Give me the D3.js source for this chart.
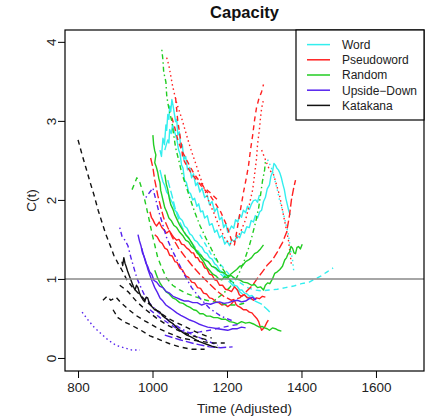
<!DOCTYPE html>
<html><head><meta charset="utf-8">
<script src="https://cdn.jsdelivr.net/npm/d3@7"></script>
<style>body{margin:0;background:#fff}svg{display:block;font-family:"Liberation Sans",Arial,sans-serif}</style>
</head><body><svg id="c" width="425" height="418"></svg>
<script>
// ---- data: each curve is a list of [time, C(t)] ----
const categories = ["Word","Pseudoword","Random","Upside\u2212Down","Katakana"];
const xTicks = [800,1000,1200,1400,1600];
const yTicks = [0,1,2,3,4];
const refLine = 1;

const word1 = [[1020,2.63],[1024,2.55],[1028,2.78],[1032,2.70],[1036,2.95],[1038,2.88],[1041,3.08],[1044,3.02],[1046,3.19],[1049,3.12],[1052,3.27],[1055,3.20],[1057,3.14],[1060,3.05],[1062,2.99],[1065,3.02],[1068,2.82],[1072,2.86],[1076,2.66],[1080,2.70],[1084,2.51],[1089,2.55],[1094,2.38],[1100,2.41],[1105,2.28],[1110,2.33],[1116,2.18],[1121,2.22],[1127,2.10],[1133,2.15],[1140,2.03],[1147,2.06],[1153,1.94],[1160,1.98],[1167,1.85],[1173,1.90],[1180,1.75],[1186,1.78],[1191,1.65],[1197,1.70],[1202,1.59],[1207,1.62],[1212,1.67],[1218,1.64],[1223,1.75],[1229,1.72],[1234,1.81],[1239,1.78],[1244,1.87],[1250,1.84],[1255,1.92],[1260,1.88],[1266,1.95],[1271,1.99],[1277,2.00],[1282,1.97],[1287,2.06]];
const word2 = [[1033,2.63],[1037,2.70],[1041,2.76],[1044,2.72],[1046,2.89],[1050,2.84],[1054,2.95],[1058,2.88],[1062,2.82],[1066,2.75],[1070,2.63],[1074,2.58],[1078,2.44],[1082,2.40],[1086,2.25],[1091,2.22],[1097,2.10],[1102,2.08],[1108,2.00],[1113,2.02],[1119,1.92],[1124,1.95],[1129,1.85],[1135,1.86],[1140,1.77],[1147,1.80],[1153,1.68],[1160,1.70],[1167,1.59],[1173,1.62],[1180,1.52],[1187,1.55],[1194,1.44],[1200,1.48],[1207,1.42],[1213,1.50],[1220,1.47],[1227,1.55],[1234,1.52],[1240,1.60],[1247,1.58],[1253,1.66],[1260,1.65],[1265,1.74],[1271,1.72],[1276,1.80],[1282,1.77],[1288,1.85],[1293,1.87],[1298,1.98],[1303,2.03],[1308,2.14],[1314,2.19],[1318,2.30],[1322,2.35],[1326,2.46],[1330,2.44],[1334,2.40],[1338,2.38],[1342,2.34],[1346,2.28],[1350,2.20],[1354,2.13],[1358,2.02],[1362,1.94],[1366,1.86],[1370,1.81]];
const word3 = [[1020,2.38],[1024,2.30],[1028,2.23],[1033,2.18],[1038,2.10],[1044,2.06],[1049,2.00],[1055,1.95],[1060,1.87],[1066,1.84],[1073,1.77],[1080,1.74],[1086,1.67],[1093,1.64],[1100,1.57],[1106,1.55],[1113,1.49],[1120,1.47],[1127,1.42],[1133,1.40],[1140,1.34],[1147,1.32],[1153,1.27],[1160,1.25],[1167,1.19],[1173,1.17],[1180,1.11],[1187,1.09],[1194,1.04],[1200,1.04],[1207,0.99],[1214,0.97],[1220,0.92],[1227,0.91],[1234,0.86],[1240,0.86],[1247,0.82],[1254,0.81],[1260,0.78],[1267,0.79],[1274,0.76]];
const word4 = [[1127,1.56],[1143,1.43],[1159,1.30],[1175,1.22],[1191,1.14],[1207,1.05],[1223,0.99],[1239,0.94],[1255,0.89],[1274,0.86],[1293,0.85],[1314,0.86],[1335,0.87],[1357,0.89],[1379,0.91],[1400,0.94],[1421,0.96],[1437,1.00],[1453,1.04],[1469,1.09],[1485,1.14]];
const word5 = [[1309,2.51],[1319,2.41],[1327,2.28],[1335,2.13],[1341,2.00],[1349,1.87],[1357,1.72],[1365,1.56],[1370,1.39],[1376,1.24],[1379,1.11]];
const word6 = [[1041,2.25],[1052,2.06],[1062,1.87],[1073,1.72],[1086,1.59],[1100,1.49],[1116,1.39],[1132,1.29],[1148,1.22],[1167,1.14],[1186,1.05],[1207,0.96],[1228,0.86],[1250,0.78],[1271,0.73],[1293,0.68],[1309,0.61],[1319,0.56]];

const pseudo1 = [[1038,3.80],[1044,3.70],[1049,3.57],[1054,3.44],[1060,3.32],[1065,3.22],[1073,3.11],[1081,2.99],[1089,2.86],[1097,2.73],[1105,2.61],[1116,2.46],[1127,2.30],[1140,2.13],[1153,1.96],[1167,1.81],[1180,1.65],[1194,1.52],[1207,1.44],[1223,1.49],[1236,1.59],[1250,1.75],[1260,1.94],[1269,2.13],[1274,2.32],[1279,2.51],[1282,2.70],[1287,2.89],[1290,3.04],[1293,3.16],[1298,3.27]];
const pseudo2 = [[1293,2.63],[1303,2.51],[1314,2.38],[1325,2.32],[1333,2.19],[1341,2.06],[1349,1.87],[1357,1.68],[1365,1.49],[1370,1.30],[1373,1.18]];
const pseudo3 = [[1062,3.29],[1065,3.14],[1068,2.99],[1073,2.84],[1078,2.68],[1081,2.53],[1092,2.43],[1105,2.33],[1119,2.25],[1135,2.15],[1151,2.08],[1167,1.97],[1183,1.85],[1199,1.68],[1212,1.49],[1220,1.43],[1228,1.65],[1236,1.87],[1244,2.09],[1252,2.28],[1258,2.44],[1263,2.63],[1269,2.82],[1274,3.01],[1279,3.16],[1285,3.27],[1293,3.37],[1298,3.46]];
const pseudo4 = [[995,2.53],[1001,2.41],[1006,2.25],[1014,2.06],[1022,1.91],[1030,1.77],[1041,1.65],[1054,1.52],[1070,1.39],[1089,1.27],[1108,1.16],[1127,1.06],[1148,0.96],[1170,0.86],[1191,0.78],[1212,0.73],[1234,0.76],[1252,0.84],[1269,0.92],[1282,1.01],[1295,1.09],[1309,1.18],[1322,1.24],[1335,1.34],[1349,1.46],[1360,1.59],[1368,1.81],[1373,2.00],[1379,2.15],[1384,2.25]];
const pseudo5 = [[993,1.85],[997,1.78],[1001,1.75],[1006,1.70],[1011,1.67],[1018,1.72],[1025,1.65],[1031,1.62],[1038,1.58],[1045,1.61],[1052,1.56],[1058,1.52],[1065,1.49],[1071,1.50],[1078,1.44],[1085,1.43],[1092,1.39],[1098,1.37],[1105,1.33],[1110,1.33],[1116,1.27],[1121,1.27],[1127,1.22],[1133,1.21],[1140,1.14],[1146,1.13],[1153,1.06],[1160,1.05],[1167,0.99],[1173,0.98],[1180,0.92],[1188,0.92],[1196,0.87],[1204,0.86],[1212,0.84],[1220,0.90],[1228,0.86],[1233,0.80],[1239,0.78],[1247,0.80],[1255,0.76],[1263,0.76],[1271,0.73],[1279,0.76],[1287,0.75],[1295,0.78],[1303,0.77]];
const pseudo6 = [[1006,1.56],[1013,1.53],[1020,1.47],[1026,1.45],[1033,1.39],[1040,1.37],[1046,1.30],[1053,1.29],[1060,1.22],[1066,1.21],[1073,1.14],[1081,1.11],[1089,1.04],[1097,1.02],[1105,0.96],[1113,0.95],[1121,0.89],[1129,0.88],[1137,0.82],[1145,0.81],[1153,0.76],[1161,0.75],[1170,0.71],[1178,0.70],[1186,0.67],[1194,0.68],[1202,0.65],[1211,0.68],[1220,0.73],[1224,0.68],[1228,0.66],[1236,0.64],[1244,0.61],[1252,0.61],[1260,0.58],[1267,0.57],[1274,0.53],[1280,0.50],[1285,0.46],[1289,0.40],[1293,0.35],[1297,0.37],[1301,0.39],[1306,0.44],[1311,0.48]];
const pseudo7 = [[1052,3.04],[1060,2.91],[1068,2.76],[1078,2.63],[1089,2.53],[1100,2.43],[1113,2.32],[1127,2.23],[1140,2.15],[1153,2.10],[1164,2.05],[1175,2.00]];

const random1 = [[1025,3.90],[1028,3.77],[1030,3.62],[1036,3.49],[1038,3.33],[1041,3.23],[1046,3.11],[1052,2.99],[1057,2.82],[1062,2.66],[1070,2.51],[1078,2.35],[1089,2.19],[1100,2.03],[1113,1.85],[1127,1.68],[1143,1.52],[1159,1.37],[1175,1.22],[1194,1.09],[1212,0.96]];
const random2 = [[1001,2.82],[1003,2.70],[1006,2.62],[1009,2.57],[1006,2.47],[1010,2.42],[1014,2.35],[1017,2.27],[1020,2.22],[1022,2.12],[1025,2.06],[1029,1.98],[1033,1.90],[1038,1.85],[1044,1.77],[1050,1.74],[1057,1.68],[1065,1.65],[1073,1.59],[1081,1.55],[1089,1.49],[1097,1.47],[1105,1.41],[1113,1.38],[1121,1.32],[1130,1.30],[1140,1.24],[1150,1.22],[1159,1.16],[1170,1.14],[1180,1.09],[1191,1.08],[1202,1.04],[1212,1.04],[1223,1.00],[1233,0.99],[1244,0.96],[1255,0.95],[1266,0.92],[1274,0.93],[1282,0.89],[1290,0.90],[1298,0.86],[1303,0.92],[1309,0.95],[1315,0.94],[1322,1.00],[1328,1.07],[1335,1.09],[1342,1.12],[1349,1.16],[1355,1.24],[1360,1.27],[1364,1.32],[1368,1.34],[1372,1.41],[1376,1.39],[1380,1.33],[1384,1.32],[1388,1.40],[1392,1.41],[1397,1.38],[1402,1.44]];
const random3 = [[945,2.13],[953,2.22],[958,2.28],[966,2.22],[974,2.10],[982,1.94],[990,1.77],[998,1.59],[1006,1.43],[1014,1.27],[1025,1.14],[1038,1.01],[1054,0.92],[1073,0.86],[1094,0.81],[1118,0.77],[1145,0.73],[1175,0.70],[1202,0.67],[1228,0.67],[1252,0.70]];
const random4 = [[1006,1.11],[1013,1.02],[1020,0.95],[1028,0.89],[1036,0.84],[1045,0.81],[1054,0.76],[1063,0.74],[1073,0.70],[1082,0.69],[1092,0.66],[1101,0.64],[1110,0.61],[1118,0.60],[1127,0.56],[1136,0.56],[1145,0.53],[1155,0.53],[1164,0.51],[1175,0.51],[1186,0.49],[1196,0.49],[1207,0.46],[1218,0.45],[1228,0.43],[1239,0.46],[1250,0.44],[1260,0.45],[1271,0.43],[1279,0.41],[1287,0.39],[1294,0.40],[1301,0.38],[1308,0.37],[1314,0.35],[1322,0.38],[1330,0.37],[1338,0.35],[1346,0.34]];
const random5 = [[1167,0.73],[1186,0.80],[1207,0.89],[1223,0.99],[1234,1.09],[1247,1.24],[1258,1.39],[1266,1.52],[1277,1.72],[1285,1.90],[1290,2.06],[1295,2.23],[1301,2.38],[1303,2.48]];
const random6 = [[1033,2.32],[1037,2.20],[1041,2.13],[1045,2.02],[1049,1.94],[1055,1.88],[1060,1.81],[1066,1.75],[1073,1.68],[1081,1.62],[1089,1.56],[1097,1.52],[1105,1.46],[1113,1.39],[1121,1.34],[1129,1.27],[1137,1.22],[1145,1.15],[1153,1.11],[1162,1.06],[1170,1.04],[1178,1.00],[1186,0.99],[1194,1.03],[1202,1.01],[1210,1.06],[1218,1.09],[1226,1.12],[1234,1.16],[1242,1.17],[1250,1.22],[1258,1.24],[1266,1.27],[1274,1.32],[1282,1.34],[1290,1.38],[1298,1.43]];

const upside1 = [[811,0.58],[827,0.48],[843,0.39],[859,0.32],[880,0.23],[902,0.16],[923,0.13],[945,0.10],[966,0.10]];
const upside2 = [[912,1.65],[918,1.54],[926,1.49],[934,1.42],[942,1.27],[950,1.14],[958,1.01],[969,0.89],[982,0.76],[998,0.66],[1020,0.56],[1046,0.46],[1073,0.38],[1105,0.30],[1140,0.23],[1175,0.16]];
const upside3 = [[961,1.56],[965,1.48],[969,1.42],[973,1.33],[977,1.29],[982,1.20],[987,1.16],[992,1.09],[998,1.06],[1004,0.98],[1011,0.96],[1019,0.91],[1028,0.89],[1037,0.84],[1046,0.82],[1055,0.78],[1065,0.76],[1075,0.74],[1086,0.72],[1097,0.72],[1108,0.70],[1120,0.70],[1132,0.67],[1144,0.69],[1156,0.68],[1168,0.70],[1180,0.71],[1192,0.69],[1204,0.70],[1216,0.72],[1228,0.73],[1239,0.71],[1250,0.72],[1260,0.75],[1269,0.77],[1274,0.74],[1279,0.75]];
const upside4 = [[971,1.39],[976,1.30],[982,1.22],[987,1.13],[993,1.05],[999,0.97],[1006,0.89],[1013,0.83],[1020,0.76],[1028,0.72],[1036,0.67],[1045,0.64],[1054,0.61],[1065,0.57],[1076,0.54],[1088,0.51],[1100,0.48],[1112,0.46],[1124,0.43],[1136,0.41],[1148,0.39],[1162,0.38],[1175,0.37],[1188,0.36],[1202,0.35],[1215,0.37],[1228,0.37],[1239,0.39],[1250,0.38]];
const upside5 = [[982,2.03],[993,2.10],[1001,2.15],[1009,2.00],[1017,1.85],[1028,1.68],[1038,1.52],[1052,1.37],[1068,1.22],[1086,1.05],[1105,0.89],[1127,0.76],[1153,0.63],[1183,0.53],[1220,0.46]];
const upside6 = [[993,0.61],[1020,0.51],[1046,0.43],[1073,0.35],[1100,0.32],[1127,0.33],[1153,0.35],[1180,0.38],[1212,0.41],[1239,0.43]];
const upside7 = [[1033,0.29],[1073,0.23],[1113,0.18],[1153,0.14],[1183,0.13],[1215,0.14]];

const kata1 = [[800,2.76],[811,2.57],[821,2.41],[832,2.23],[843,2.06],[854,1.87],[864,1.72],[875,1.56],[886,1.43],[896,1.30],[907,1.20],[918,1.11],[931,0.99],[947,0.89],[966,0.80],[987,0.70],[1014,0.59],[1046,0.49],[1081,0.41],[1121,0.32],[1159,0.25]];
const kata2 = [[918,1.22],[920,1.17],[923,1.27],[926,1.20],[929,1.16],[933,1.10],[937,1.05],[941,1.00],[945,0.95],[949,0.90],[953,0.86],[957,0.92],[961,0.89],[965,0.82],[969,0.78],[974,0.74],[979,0.71],[983,0.77],[987,0.76],[991,0.70],[995,0.67],[1000,0.64],[1006,0.61],[1013,0.60],[1020,0.58],[1026,0.54],[1033,0.51],[1040,0.49],[1046,0.46],[1053,0.44],[1060,0.41],[1066,0.38],[1073,0.35],[1082,0.32],[1092,0.29],[1102,0.27],[1113,0.24],[1124,0.21],[1135,0.19],[1147,0.17],[1159,0.15],[1167,0.14],[1175,0.13]];
const kata3 = [[867,0.73],[878,0.78],[888,0.73],[902,0.77],[915,0.70],[934,0.62],[955,0.54],[979,0.47],[1009,0.39],[1041,0.32],[1078,0.25],[1116,0.22],[1159,0.19],[1194,0.19]];
const kata4 = [[894,0.61],[907,0.51],[923,0.46],[945,0.41],[969,0.35],[993,0.28],[1020,0.23],[1046,0.18],[1073,0.14],[1105,0.11],[1140,0.11]];
const kata5 = [[912,0.92],[934,0.84],[958,0.71],[982,0.61],[1009,0.51],[1038,0.42],[1073,0.34],[1108,0.28],[1145,0.23]];

// curve list: [category index, R line type, points]
const curves = [
  [0,1,word1],[0,1,word2],[0,1,word3],[0,2,word4],[0,3,word5],[0,5,word6],
  [1,3,pseudo1],[1,3,pseudo2],[1,2,pseudo3],[1,5,pseudo4],[1,1,pseudo5],[1,1,pseudo6],[1,2,pseudo7],
  [2,4,random1],[2,1,random2],[2,2,random3],[2,1,random4],[2,4,random5],[2,1,random6],
  [3,3,upside1],[3,4,upside2],[3,1,upside3],[3,1,upside4],[3,4,upside5],[3,2,upside6],[3,5,upside7],
  [4,2,kata1],[4,1,kata2],[4,2,kata3],[4,2,kata4],[4,2,kata5]
];

// ---- styles ----
const colors = ["#33EEEE","#FF2020","#22CC22","#5522EE","#111111"];
const dashes = {1:null,2:"5,4",3:"1.5,3",4:"1.5,3,5,3",5:"8,3",6:"3,2,7,2"};

const svg = d3.select("#c");
const L=65,R=424,T=30,B=371;
const x = d3.scaleLinear().domain([765,1729]).range([L,R]);
const y = d3.scaleLinear().domain([-0.165,4.15]).range([B,T]);

svg.append("defs").append("clipPath").attr("id","clip")
  .append("rect").attr("x",L).attr("y",T).attr("width",R-L).attr("height",B-T);

const line = d3.line().x(d=>x(d[0])).y(d=>y(d[1]));
const g = svg.append("g").attr("clip-path","url(#clip)");
curves.forEach(c=>{
  g.append("path").attr("d",line(c[2])).attr("fill","none")
   .attr("stroke",colors[c[0]]).attr("stroke-width",1.4)
   .attr("stroke-linejoin","round")
   .attr("stroke-dasharray",dashes[c[1]]);
});
g.append("line").attr("x1",L).attr("x2",R).attr("y1",y(refLine)).attr("y2",y(refLine))
 .attr("stroke","#888").attr("stroke-width",1.5);

// box
svg.append("rect").attr("x",L).attr("y",T).attr("width",R-L).attr("height",B-T)
  .attr("fill","none").attr("stroke","#000").attr("stroke-width",1.2);

// axes
const xa = svg.append("g").attr("transform",`translate(0,${B})`)
  .call(d3.axisBottom(x).tickValues(xTicks).tickSize(7).tickPadding(4).tickFormat(d3.format("d")));
xa.select(".domain").remove();
xa.selectAll("text").attr("font-size",13.5).attr("fill","#222").attr("font-family","Liberation Sans, Arial, sans-serif");
xa.selectAll("line").attr("stroke","#000");

const ya = svg.append("g").attr("transform",`translate(${L},0)`)
  .call(d3.axisLeft(y).tickValues(yTicks).tickSize(7).tickFormat(d3.format("d")));
ya.select(".domain").remove();
ya.selectAll("line").attr("stroke","#000");
ya.selectAll("text").attr("x",0).attr("dy",null)
  .attr("transform","translate(-9,0) rotate(-90)").attr("text-anchor","middle")
  .attr("font-size",13.5).attr("fill","#222").attr("font-family","Liberation Sans, Arial, sans-serif");

// titles
svg.append("text").attr("x",(L+R)/2).attr("y",17.5).attr("text-anchor","middle")
  .attr("font-size",16.5).attr("font-weight","bold").attr("fill","#111").text("Capacity");
svg.append("text").attr("x",(L+R)/2).attr("y",413).attr("text-anchor","middle")
  .attr("font-size",13.5).attr("fill","#222").text("Time (Adjusted)");
svg.append("text").attr("transform",`translate(36,${(T+B)/2}) rotate(-90)`).attr("text-anchor","middle")
  .attr("font-size",13.5).attr("fill","#222").text("C(t)");

// legend
const lg = svg.append("g");
lg.append("rect").attr("x",296).attr("y",T).attr("width",R-296).attr("height",90)
  .attr("fill","#fff").attr("stroke","#000").attr("stroke-width",1.2);
categories.forEach((c,i)=>{
  const yy = 44.6 + i*15.2;
  lg.append("line").attr("x1",307).attr("x2",330).attr("y1",yy).attr("y2",yy)
    .attr("stroke",colors[i]).attr("stroke-width",1.5);
  lg.append("text").attr("x",342).attr("y",yy+4.3).attr("font-size",12).attr("fill","#222").text(c);
});
</script></body></html>
